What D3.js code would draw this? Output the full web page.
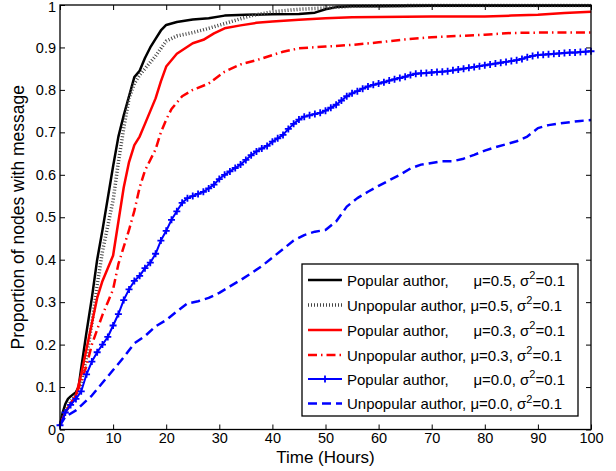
<!DOCTYPE html>
<html>
<head>
<meta charset="utf-8">
<script src="https://cdn.jsdelivr.net/npm/d3@7"></script>
<style>
  html, body { margin: 0; padding: 0; background: #fff; }
  svg { display: block; font-family: "Liberation Sans", Arial, Helvetica, sans-serif; }
</style>
</head>
<body>
<svg id="chart" width="616" height="471"></svg>
<script>
// ---------------- data ----------------
const xTicks = [0, 10, 20, 30, 40, 50, 60, 70, 80, 90, 100];
const yTicks = [0, 0.1, 0.2, 0.3, 0.4, 0.5, 0.6, 0.7, 0.8, 0.9, 1];

// Popular author, mu=0.5
const tPop05 = [0,0.5,1,1.5,2,3,3.5,4,5,6,7,8,9,10,11,12,13,14,15,16,17,18,19,20,22,25,28,31,35,40,45,48,50,52,55,60,70,80,90,100];
const vPop05 = [0.01,0.04,0.06,0.072,0.078,0.088,0.1,0.145,0.23,0.31,0.40,0.47,0.545,0.62,0.69,0.74,0.785,0.83,0.845,0.875,0.9,0.92,0.94,0.953,0.96,0.966,0.969,0.975,0.977,0.978,0.979,0.982,0.99,0.995,0.997,0.997,0.998,0.998,0.998,0.998];

// Unpopular author, mu=0.5
const tUnp05 = [0,1,2,3,4,5,6,7,8,9,10,11,12,13,14,15,16,18,20,22,25,28,32,36,40,45,50,55,60,70,80,90,100];
const vUnp05 = [0.01,0.045,0.065,0.08,0.11,0.17,0.25,0.34,0.42,0.48,0.54,0.63,0.71,0.78,0.815,0.835,0.85,0.88,0.915,0.927,0.935,0.945,0.96,0.975,0.984,0.99,0.993,0.997,0.998,0.999,0.999,0.999,0.999];

// Popular author, mu=0.3
const tPop03 = [0,1,2,3,4,5,6,7,8,9,10,11,12,13,14,15,16,17,18,19,20,22,25,27,29,31,34,37,40,45,50,55,60,70,80,85,90,95,100];
const vPop03 = [0.01,0.04,0.06,0.08,0.13,0.19,0.25,0.31,0.35,0.38,0.41,0.49,0.57,0.63,0.67,0.69,0.72,0.75,0.78,0.82,0.855,0.885,0.91,0.918,0.933,0.945,0.952,0.958,0.961,0.965,0.969,0.971,0.972,0.973,0.973,0.975,0.977,0.981,0.984];

// Unpopular author, mu=0.3
const tUnp03 = [0,1,2,3,4,5,6,7,8,9,10,11,12,13,14,15,16,17,18,19,20,21,23,25,28,31,34,37,42,45,50,55,60,65,70,75,80,85,90,95,100];
const vUnp03 = [0.01,0.04,0.06,0.08,0.115,0.15,0.2,0.235,0.27,0.3,0.33,0.39,0.43,0.47,0.515,0.57,0.61,0.635,0.66,0.7,0.73,0.755,0.785,0.8,0.815,0.843,0.86,0.87,0.89,0.898,0.902,0.906,0.912,0.919,0.924,0.927,0.93,0.934,0.935,0.935,0.935];

// Popular author, mu=0.0 (one reading per hour, 0..100)
const vPop00 = [0.01,0.04,0.058,0.072,0.09,0.13,0.16,0.182,0.2,0.218,0.245,0.272,0.305,0.33,0.35,0.362,0.38,0.393,0.414,0.445,
  0.468,0.494,0.514,0.534,0.545,0.55,0.555,0.56,0.568,0.577,0.59,0.6,0.608,0.616,0.624,0.635,0.646,0.655,0.662,0.668,
  0.678,0.686,0.694,0.708,0.72,0.73,0.737,0.74,0.743,0.746,0.751,0.758,0.765,0.775,0.785,0.792,0.797,0.803,0.808,0.812,
  0.815,0.818,0.822,0.825,0.828,0.831,0.835,0.838,0.839,0.84,0.841,0.842,0.843,0.844,0.846,0.848,0.85,0.852,0.854,0.856,
  0.858,0.86,0.862,0.864,0.866,0.868,0.87,0.873,0.877,0.88,0.882,0.883,0.884,0.885,0.886,0.887,0.888,0.888,0.889,0.89,0.891];
const tPop00 = vPop00.map((_, i) => i);

// Unpopular author, mu=0.0
const tUnp00 = [0,1,3,6,8,10,12,14,16,18,20,22,24,26,28,30,32,34,36,38,40,42,44,46,48,50,52,54,56,58,60,62,64,66,68,70,72,74,76,78,80,82,84,86,88,90,92,94,96,98,100];
const vUnp00 = [0.01,0.03,0.045,0.08,0.11,0.14,0.17,0.203,0.22,0.243,0.258,0.278,0.297,0.302,0.31,0.322,0.337,0.352,0.368,0.385,0.405,0.425,0.445,0.458,0.466,0.47,0.49,0.525,0.545,0.56,0.574,0.587,0.6,0.615,0.624,0.628,0.632,0.632,0.638,0.647,0.657,0.665,0.672,0.679,0.69,0.71,0.717,0.721,0.724,0.727,0.729];

const seriesNames = ["Popular author,", "Unpopular author,", "Popular author,", "Unpopular author,", "Popular author,", "Unpopular author,"];
const seriesParams = ["\u03BC=0.5, \u03C3", "\u03BC=0.5, \u03C3", "\u03BC=0.3, \u03C3", "\u03BC=0.3, \u03C3", "\u03BC=0.0, \u03C3", "\u03BC=0.0, \u03C3"];

// ---------------- drawing ----------------
const svg = d3.select("#chart");
const L = 60, R = 591, T = 5, B = 429.5;
const x = d3.scaleLinear().domain([0, 100]).range([L, R]);
const y = d3.scaleLinear().domain([0, 1]).range([B, T]);

const styles = [
  { color: "#000", width: 2.5, dash: null, marker: false, popular: true },
  { color: "#444", width: 3.5, dash: "1,2", marker: false, popular: false },
  { color: "#f00", width: 2.5, dash: null, marker: false, popular: true },
  { color: "#f00", width: 2.5, dash: "9,4,1.5,4", marker: false, popular: false },
  { color: "#00f", width: 2, dash: null, marker: true, popular: true },
  { color: "#00f", width: 2.5, dash: "9,5", marker: false, popular: false }
];
const series = [
  { t: tPop05, v: vPop05 }, { t: tUnp05, v: vUnp05 },
  { t: tPop03, v: vPop03 }, { t: tUnp03, v: vUnp03 },
  { t: tPop00, v: vPop00 }, { t: tUnp00, v: vUnp00 }
];

const line = d3.line().x(d => x(d[0])).y(d => y(d[1]));

// axes box ticks
const fmt = d => String(+d.toFixed(1));
const gx = svg.append("g").attr("transform", `translate(0,${B})`)
  .call(d3.axisBottom(x).tickValues(xTicks).tickSize(-5).tickPadding(3.5).tickFormat(fmt));
const gxt = svg.append("g").attr("transform", `translate(0,${T})`)
  .call(d3.axisTop(x).tickValues(xTicks).tickSize(-5).tickFormat(""));
const gy = svg.append("g").attr("transform", `translate(${L},0)`)
  .call(d3.axisLeft(y).tickValues(yTicks).tickSize(-5).tickPadding(4).tickFormat(fmt));
const gyr = svg.append("g").attr("transform", `translate(${R},0)`)
  .call(d3.axisRight(y).tickValues(yTicks).tickSize(-5).tickFormat(""));
[gx, gxt, gy, gyr].forEach(g => {
  g.select(".domain").remove();
  g.selectAll("line").attr("stroke", "#000").attr("stroke-width", 1);
  g.selectAll("text").attr("font-size", 14.5).attr("fill", "#000")
    .attr("font-family", "'Liberation Sans', Arial, sans-serif");
});
// keep the top "1" label inside the picture
gy.selectAll(".tick").filter(d => d === 1).select("text").attr("dy", "0.42em");

// series lines
series.forEach((s, i) => {
  const st = styles[i];
  const pts = s.t.map((t, j) => [t, s.v[j]]);
  svg.append("path").datum(pts)
    .attr("d", line)
    .attr("fill", "none")
    .attr("stroke", st.color)
    .attr("stroke-width", st.width)
    .attr("stroke-dasharray", st.dash)
    .attr("stroke-linejoin", "round");
  if (st.marker) {
    svg.append("g").selectAll("path").data(pts).join("path")
      .attr("d", d => `M${x(d[0]) - 3.5},${y(d[1])}h7M${x(d[0])},${y(d[1]) - 3.5}v7`)
      .attr("stroke", st.color).attr("stroke-width", 1.8);
  }
});

// box
svg.append("rect").attr("x", L).attr("y", T).attr("width", R - L).attr("height", B - T)
  .attr("fill", "none").attr("stroke", "#000").attr("stroke-width", 1.3);

// axis labels
svg.append("text").attr("x", (L + R) / 2).attr("y", 463).attr("text-anchor", "middle")
  .attr("font-size", 17).text("Time (Hours)");
svg.append("text").attr("transform", `translate(24,${(T + B) / 2}) rotate(-90)`)
  .attr("text-anchor", "middle").attr("font-size", 17.5).text("Proportion of nodes with message");

// legend
const lg = svg.append("g");
lg.append("rect").attr("x", 302).attr("y", 264).attr("width", 276).attr("height", 152)
  .attr("fill", "#fff").attr("stroke", "#000").attr("stroke-width", 1.3);
const rowY = [280, 305, 330, 355, 379, 403.5];
// measure where the parameter column starts (after "Unpopular author, ")
const probe = lg.append("text").attr("font-size", 15).attr("x", 0).attr("y", -100).text("Unpopular author,\u00A0");
const paramX = 347 + probe.node().getComputedTextLength();
probe.remove();
styles.forEach((st, i) => {
  const yy = rowY[i];
  lg.append("line").attr("x1", 308).attr("x2", 342).attr("y1", yy).attr("y2", yy)
    .attr("stroke", st.color).attr("stroke-width", st.width).attr("stroke-dasharray", st.dash);
  if (st.marker) {
    lg.append("path").attr("d", `M321.5,${yy}h7M325,${yy - 3.5}v7`)
      .attr("stroke", st.color).attr("stroke-width", 1.8);
  }
  lg.append("text").attr("x", 347).attr("y", yy + 5.5).attr("font-size", 15).text(seriesNames[i]);
  const t = lg.append("text").attr("x", st.popular ? paramX + 3 : paramX).attr("y", yy + 5.5).attr("font-size", 15);
  t.append("tspan").text(seriesParams[i]);
  t.append("tspan").attr("font-size", 11).attr("dy", -6.5).text("2");
  t.append("tspan").attr("dy", 6.5).text("=0.1");
});
</script>
</body>
</html>
